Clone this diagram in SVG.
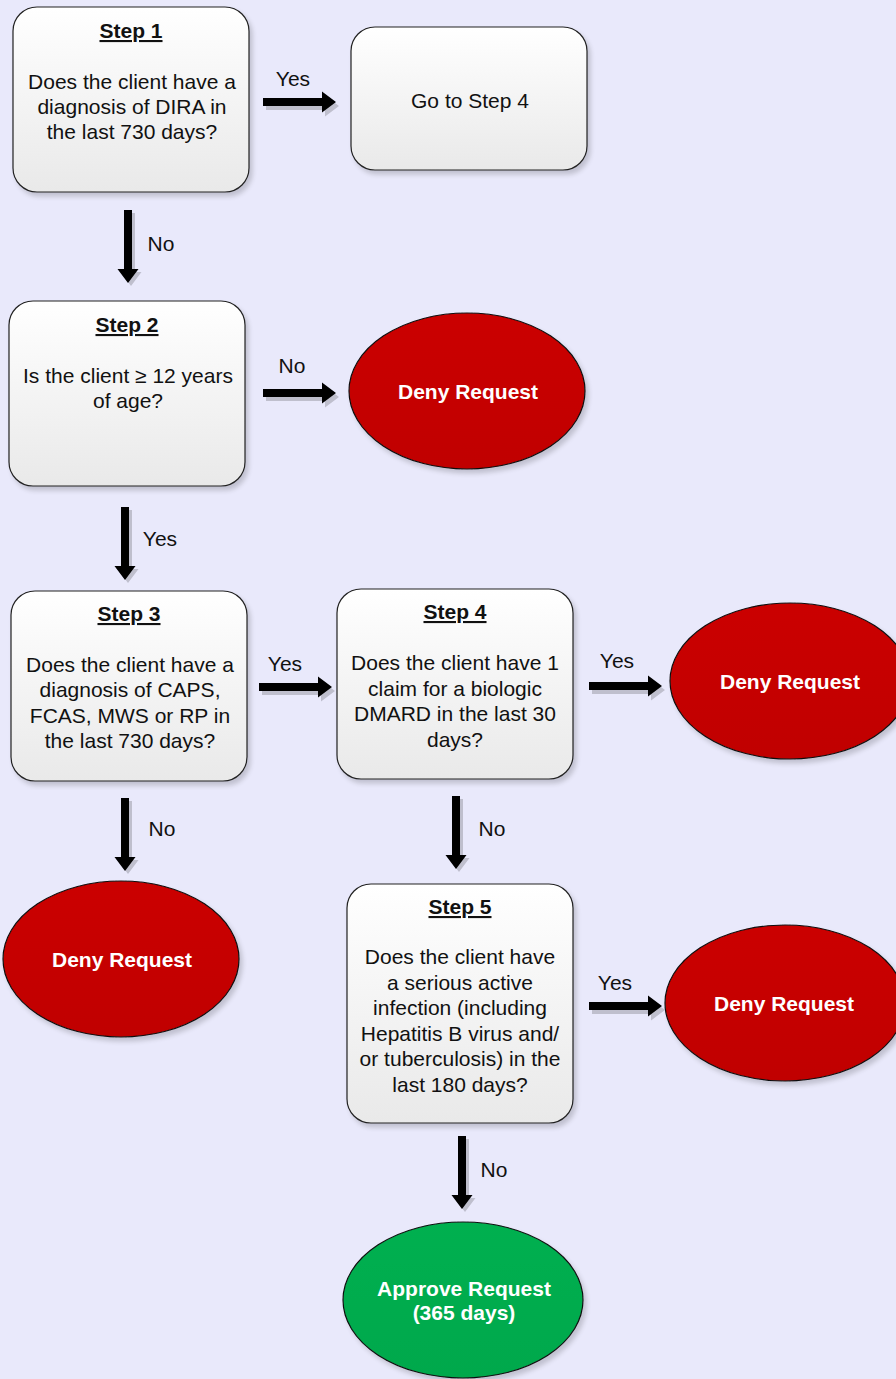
<svg xmlns="http://www.w3.org/2000/svg" width="896" height="1379" viewBox="0 0 896 1379">
<defs>
<linearGradient id="boxg" x1="0" y1="0" x2="0" y2="1">
<stop offset="0" stop-color="#ffffff"/>
<stop offset="1" stop-color="#e9e9e9"/>
</linearGradient>
<linearGradient id="redg" x1="0" y1="0" x2="0" y2="1">
<stop offset="0" stop-color="#cb0000"/>
<stop offset="1" stop-color="#c00000"/>
</linearGradient>
<linearGradient id="greeng" x1="0" y1="0" x2="0" y2="1">
<stop offset="0" stop-color="#00b050"/>
<stop offset="1" stop-color="#00a84c"/>
</linearGradient>
<filter id="sh" x="-10%" y="-10%" width="130%" height="130%">
<feGaussianBlur in="SourceAlpha" stdDeviation="2.5"/>
<feOffset dx="3" dy="4" result="b"/>
<feComponentTransfer><feFuncA type="linear" slope="0.18"/></feComponentTransfer>
<feMerge><feMergeNode/><feMergeNode in="SourceGraphic"/></feMerge>
</filter>
<path id="arr" d="M0,-4 H59 V-10.5 L73,0 L59,10.5 V4 H0 Z"/>
</defs>
<style>
.box{fill:url(#boxg);stroke:#222;stroke-width:1.2;filter:url(#sh)}
.deny{fill:url(#redg);stroke:#111;stroke-width:1.2;filter:url(#sh)}
.ok{fill:url(#greeng);stroke:#111;stroke-width:1.2;filter:url(#sh)}
.t{font-family:"Liberation Sans",Arial,sans-serif;font-size:21px;fill:#111;text-anchor:middle}
.h{font-family:"Liberation Sans",Arial,sans-serif;font-size:21px;font-weight:bold;fill:#111;text-anchor:middle;text-decoration:underline}
.w{font-family:"Liberation Sans",Arial,sans-serif;font-size:21px;font-weight:bold;fill:#fff;text-anchor:middle}
.lab{font-family:"Liberation Sans",Arial,sans-serif;font-size:21px;fill:#111;text-anchor:middle}
.a{fill:#000}
.as{fill:#000;opacity:0.18}
</style>
<rect width="896" height="1379" fill="#e9e9fb"/>

<g id="connectors">
<g id="c1"><use href="#arr" class="as" transform="translate(266,106)"/><use href="#arr" class="a" transform="translate(263,102)"/><text class="lab" x="293" y="86">Yes</text></g>
<g id="c2"><use href="#arr" class="as" transform="translate(131,213) rotate(90)"/><use href="#arr" class="a" transform="translate(128,210) rotate(90)"/><text class="lab" x="161" y="251">No</text></g>
<g id="c3"><use href="#arr" class="as" transform="translate(266,397)"/><use href="#arr" class="a" transform="translate(263,393)"/><text class="lab" x="292" y="373">No</text></g>
<g id="c4"><use href="#arr" class="as" transform="translate(128,510) rotate(90)"/><use href="#arr" class="a" transform="translate(125,507) rotate(90)"/><text class="lab" x="160" y="546">Yes</text></g>
<g id="c5"><use href="#arr" class="as" transform="translate(262,691)"/><use href="#arr" class="a" transform="translate(259,687)"/><text class="lab" x="285" y="671">Yes</text></g>
<g id="c6"><use href="#arr" class="as" transform="translate(592,690)"/><use href="#arr" class="a" transform="translate(589,686)"/><text class="lab" x="617" y="668">Yes</text></g>
<g id="c7"><use href="#arr" class="as" transform="translate(128,801) rotate(90)"/><use href="#arr" class="a" transform="translate(125,798) rotate(90)"/><text class="lab" x="162" y="836">No</text></g>
<g id="c8"><use href="#arr" class="as" transform="translate(459,799) rotate(90)"/><use href="#arr" class="a" transform="translate(456,796) rotate(90)"/><text class="lab" x="492" y="836">No</text></g>
<g id="c9"><use href="#arr" class="as" transform="translate(592,1010)"/><use href="#arr" class="a" transform="translate(589,1006)"/><text class="lab" x="615" y="990">Yes</text></g>
<g id="c10"><use href="#arr" class="as" transform="translate(465,1139) rotate(90)"/><use href="#arr" class="a" transform="translate(462,1136) rotate(90)"/><text class="lab" x="494" y="1177">No</text></g>
</g>

<g id="step1">
<rect class="box" x="13" y="7" width="236" height="185" rx="24"/>
<text class="h" x="131" y="38">Step 1</text>
<text class="t" x="132" y="89">Does the client have a</text>
<text class="t" x="132" y="114">diagnosis of DIRA in</text>
<text class="t" x="132" y="139">the last 730 days?</text>
</g>

<g id="goto4">
<rect class="box" x="351" y="27" width="236" height="143" rx="24"/>
<text class="t" x="470" y="108">Go to Step 4</text>
</g>

<g id="step2">
<rect class="box" x="9" y="301" width="236" height="185" rx="24"/>
<text class="h" x="127" y="332">Step 2</text>
<text class="t" x="128" y="383">Is the client ≥ 12 years</text>
<text class="t" x="128" y="408">of age?</text>
</g>

<g id="deny1">
<ellipse class="deny" cx="467" cy="391" rx="118" ry="78"/>
<text class="w" x="468" y="399">Deny Request</text>
</g>

<g id="step3">
<rect class="box" x="11" y="591" width="236" height="190" rx="24"/>
<text class="h" x="129" y="621">Step 3</text>
<text class="t" x="130" y="672">Does the client have a</text>
<text class="t" x="130" y="697">diagnosis of CAPS,</text>
<text class="t" x="130" y="723">FCAS, MWS or RP in</text>
<text class="t" x="130" y="748">the last 730 days?</text>
</g>

<g id="step4">
<rect class="box" x="337" y="589" width="236" height="190" rx="24"/>
<text class="h" x="455" y="619">Step 4</text>
<text class="t" x="455" y="670">Does the client have 1</text>
<text class="t" x="455" y="696">claim for a biologic</text>
<text class="t" x="455" y="721">DMARD in the last 30</text>
<text class="t" x="455" y="747">days?</text>
</g>

<g id="deny2">
<ellipse class="deny" cx="790" cy="681" rx="120" ry="78"/>
<text class="w" x="790" y="689">Deny Request</text>
</g>

<g id="deny3">
<ellipse class="deny" cx="121" cy="959" rx="118" ry="78"/>
<text class="w" x="122" y="967">Deny Request</text>
</g>

<g id="step5">
<rect class="box" x="347" y="884" width="226" height="239" rx="24"/>
<text class="h" x="460" y="914">Step 5</text>
<text class="t" x="460" y="964">Does the client have</text>
<text class="t" x="460" y="990">a serious active</text>
<text class="t" x="460" y="1015">infection (including</text>
<text class="t" x="460" y="1041">Hepatitis B virus and/</text>
<text class="t" x="460" y="1066">or tuberculosis) in the</text>
<text class="t" x="460" y="1092">last 180 days?</text>
</g>

<g id="deny4">
<ellipse class="deny" cx="785" cy="1003" rx="120" ry="78"/>
<text class="w" x="784" y="1011">Deny Request</text>
</g>

<g id="approve">
<ellipse class="ok" cx="463" cy="1300" rx="120" ry="78"/>
<text class="w" x="464" y="1296">Approve Request</text>
<text class="w" x="464" y="1320">(365 days)</text>
</g>
</svg>
